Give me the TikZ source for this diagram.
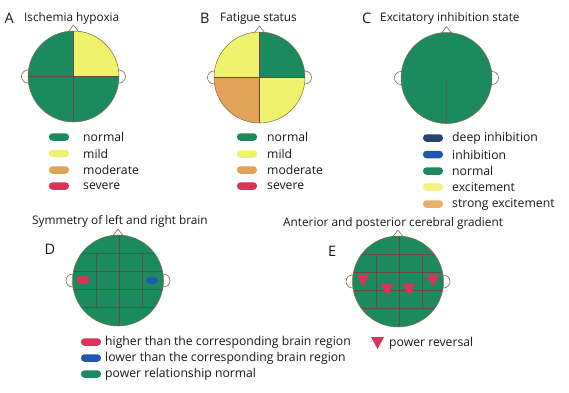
\documentclass[tikz,border=0pt]{standalone}
\usepackage{fontspec}
\setmainfont{Open Sans}
\usetikzlibrary{shapes.geometric}
\definecolor{gn}{HTML}{1B8A5E}
\definecolor{yl}{HTML}{EEF26C}
\definecolor{og}{HTML}{E2A25A}
\definecolor{rd}{HTML}{D8345A}
\definecolor{nv}{HTML}{2A4272}
\definecolor{bl}{HTML}{2058AE}
\definecolor{ex}{HTML}{F1F383}
\definecolor{se}{HTML}{E9B26C}
\definecolor{gl}{HTML}{6A4A3E}
\definecolor{ol}{HTML}{8A6A4A}
\tikzset{
  earc/.style={draw=ol, fill=white, line width=0.6pt},
  headline/.style={draw=ol, line width=0.5pt},
  gridl/.style={draw=gl, line width=0.6pt},
  lbl/.style={font=\fontsize{12.2}{14}\selectfont, anchor=west, inner sep=0pt, text=black!90},
  ttl/.style={font=\fontsize{11.8}{14}\selectfont, anchor=west, inner sep=0pt, text=black!90},
  letter/.style={font=\fontsize{14.5}{16}\selectfont, anchor=west, inner sep=0pt, text=black!90},
  key/.style={rounded corners=3.5pt, minimum width=20pt, minimum height=7.5pt, inner sep=0pt},
  tri/.style={fill=rd, draw=none}
}
\newcommand\headback[2]{%
  \draw[earc] (#1-45.5,#2) circle[radius=6.5pt];
  \draw[earc] (#1+45.5,#2) circle[radius=6.5pt];
  \draw[earc] (#1-6.5,#2-43) -- (#1,#2-51.5) -- (#1+6.5,#2-43) -- cycle;
}
\newcommand\legkey[4]{% x y colour name
  \node[key, fill=#3] (#4) at (#1,#2) {};
}
\newcommand\downtri[3]{% x y name
  \coordinate (#3) at (#1,#2);
  \fill[tri] (#1-6.5,#2-6) -- (#1+6.5,#2-6) -- (#1,#2+6) -- cycle;
}
\begin{document}
\begin{tikzpicture}[x=1pt,y=-1pt]
\useasboundingbox (0,0) rectangle (569,392);
\fill[white] (0,0) rectangle (569,392);

% ---------- A ----------
\node[letter] (la) at (4.5,18.5) {A};
\node[ttl] (ta) at (24,18) {Ischemia hypoxia};
\headback{73.5}{76.5}
\begin{scope}
  \clip (73.5,76.5) circle[radius=45.5pt];
  \fill[gn] (20,20) rectangle (130,130);
  \fill[yl] (73.5,76.5) rectangle (130,20);
  \draw[gridl] (73.5,20) -- (73.5,130);
  \draw[gridl] (20,76.5) -- (130,76.5);
\end{scope}
\draw[headline] (73.5,76.5) circle[radius=45.5pt];
\legkey{59}{137}{gn}{ka1}\node[lbl] at (83,137) {normal};
\legkey{59}{153.5}{yl}{ka2}\node[lbl] at (83,153.5) {mild};
\legkey{59}{170}{og}{ka3}\node[lbl] at (83,170) {moderate};
\legkey{59}{186}{rd}{ka4}\node[lbl] at (83,186) {severe};

% ---------- B ----------
\node[letter] (lb) at (200,18.5) {B};
\node[ttl] (tb) at (220,18.5) {Fatigue status};
\headback{259.5}{77.5}
\begin{scope}
  \clip (259.5,77.5) circle[radius=45.5pt];
  \fill[yl] (205,20) rectangle (315,135);
  \fill[gn] (259.5,77.5) rectangle (315,20);
  \fill[og] (259.5,77.5) rectangle (205,135);
  \draw[gridl, line width=0.4pt] (259.5,20) -- (259.5,135);
  \draw[gridl, line width=0.4pt] (205,77.5) -- (315,77.5);
\end{scope}
\draw[headline] (259.5,77.5) circle[radius=45.5pt];
\legkey{247}{137}{gn}{kb1}\node[lbl] at (267,137) {normal};
\legkey{247}{154}{yl}{kb2}\node[lbl] at (267,154) {mild};
\legkey{247}{170}{og}{kb3}\node[lbl] at (267,170) {moderate};
\legkey{247}{186}{rd}{kb4}\node[lbl] at (267,186) {severe};

% ---------- C ----------
\node[letter] (lc) at (362,18.5) {C};
\node[ttl] (tc) at (380,18.5) {Excitatory inhibition state};
\headback{446.5}{78}
\begin{scope}
  \clip (446.5,78) circle[radius=45.5pt];
  \fill[gn] (395,25) rectangle (500,130);
  \draw[gl!60!gn, line width=0.6pt] (446.5,80) -- (446.5,130);
\end{scope}
\draw[headline] (446.5,78) circle[radius=45.5pt];
\legkey{433}{138}{nv}{kc1}\node[lbl] at (452,138) {deep inhibition};
\legkey{433}{154.5}{bl}{kc2}\node[lbl] at (452,154.5) {inhibition};
\legkey{433}{171}{gn}{kc3}\node[lbl] at (452,171) {normal};
\legkey{433}{187}{ex}{kc4}\node[lbl] at (452,187) {excitement};
\legkey{433}{204}{se}{kc5}\node[lbl] at (452,204) {strong excitement};

% ---------- D ----------
\node[ttl] (td) at (32,221) {Symmetry of left and right brain};
\node[letter] (ld) at (44.5,249) {D};
\headback{118}{280.5}
\begin{scope}
  \clip (118,280.5) circle[radius=45.5pt];
  \fill[gn] (70,230) rectangle (170,330);
  \foreach \yy in {253,271,289,307} \draw[gridl] (70,\yy) -- (170,\yy);
  \draw[gridl] (96,253) -- (96,307);
  \draw[gridl] (142,253) -- (142,307);
  \draw[gridl] (119,230) -- (119,330);
\end{scope}
\draw[headline] (118,280.5) circle[radius=45.5pt];
\node[ellipse, fill=rd, minimum width=13pt, minimum height=8.5pt, inner sep=0pt] (hi) at (83,280) {};
\node[ellipse, fill=bl, minimum width=12pt, minimum height=7.5pt, inner sep=0pt] (lo) at (152,280.5) {};
\legkey{91}{342}{rd}{kd1}\node[lbl] at (105,342) {higher than the corresponding brain region};
\legkey{91}{358}{bl}{kd2}\node[lbl] at (105,358) {lower than the corresponding brain region};
\legkey{91}{374}{gn}{kd3}\node[lbl] at (105,374) {power relationship normal};

% ---------- E ----------
\node[ttl] (te) at (283,223) {Anterior and posterior cerebral gradient};
\node[letter] (le) at (328,251) {E};
\headback{398}{281.5}
\begin{scope}
  \clip (398,281.5) circle[radius=45.5pt];
  \fill[gn] (350,230) rectangle (450,330);
  \foreach \yy in {254,272,290,308} \draw[gridl] (350,\yy) -- (450,\yy);
  \draw[gridl] (376,254) -- (376,308);
  \draw[gridl] (422,254) -- (422,308);
  \draw[gridl] (399,230) -- (399,330);
\end{scope}
\draw[headline] (398,281.5) circle[radius=45.5pt];
\downtri{363}{280.5}{t1}
\downtri{387}{289.5}{t2}
\downtri{409}{289.5}{t3}
\downtri{433}{280.5}{t4}
\downtri{377.5}{343}{tk}
\node[lbl] at (389,343) {power reversal};
\end{tikzpicture}
\end{document}
